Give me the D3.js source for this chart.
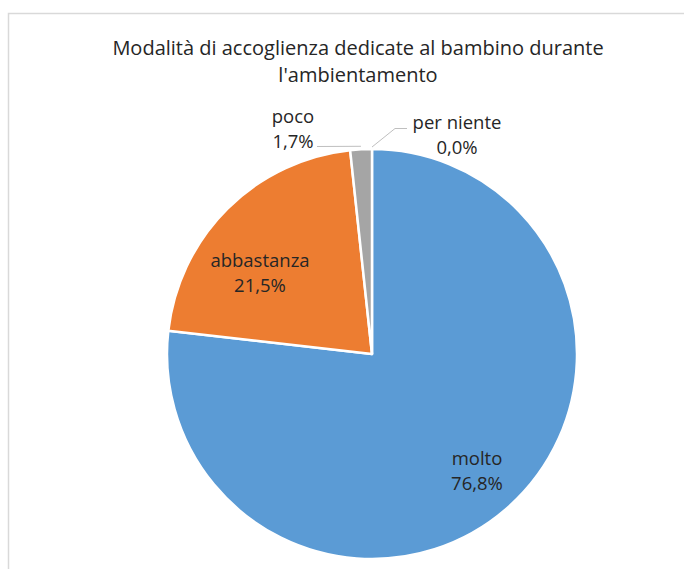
<!DOCTYPE html>
<html><head><meta charset="utf-8">
<script src="https://cdn.jsdelivr.net/npm/d3@7"></script>
<style>body{margin:0;background:#fff}svg{display:block}</style>
</head><body>
<svg id="c" width="684" height="569"></svg>
<script>
const categories = ["molto", "abbastanza", "poco", "per niente"];
const values = [76.8, 21.5, 1.7, 0.0];
const colors = ["#5b9bd5", "#ed7d31", "#a5a5a5", "#ffc000"];
const titleLines = ["Modalità di accoglienza dedicate al bambino durante", "l'ambientamento"];

const svg = d3.select("#c");
const font = "'Open Sans', 'Noto Sans', sans-serif";

// frame
svg.append("path").attr("d", "M8.5,569 L8.5,13.5 L684,13.5")
  .attr("fill", "none").attr("stroke", "#d9d9d9").attr("stroke-width", 1.5);

svg.append("text").attr("x", 358).attr("y", 55).attr("text-anchor", "middle")
  .attr("font-family", font).attr("font-size", 20).attr("fill", "#262626")
  .selectAll("tspan").data(titleLines).join("tspan")
  .attr("x", 358).attr("dy", (d, i) => i ? 27 : 0).text(d => d);

const cx = 372, cy = 354, r = 205;
const data = categories.map((c, i) => ({cat: c, v: values[i], col: colors[i]}));
const pie = d3.pie().sort(null).value(d => d.v);
const arcs = pie(data);
const arc = d3.arc().innerRadius(0).outerRadius(r);
const g = svg.append("g").attr("transform", `translate(${cx},${cy})`);
g.selectAll("path").data(arcs.filter(a => a.data.v > 0)).join("path")
  .attr("d", arc).attr("fill", d => d.data.col)
  .attr("stroke", "#fff").attr("stroke-width", 2.5).attr("stroke-linejoin", "round");

// labels
const labelPos = {
  "molto": [477, 465],
  "abbastanza": [260, 267],
  "poco": [293, 123],
  "per niente": [457, 129]
};
const fmt = v => d3.format(".1f")(v).replace(".", ",") + "%";
arcs.forEach(a => {
  const [x, y] = labelPos[a.data.cat];
  const t = svg.append("text").attr("text-anchor", "middle")
    .attr("font-family", font).attr("font-size", 18.5).attr("fill", "#262626");
  t.append("tspan").attr("x", x).attr("y", y).text(a.data.cat);
  t.append("tspan").attr("x", x).attr("y", y + 25).text(fmt(a.data.v));
});

// leader lines
const pocoArc = arcs[2], nienteArc = arcs[3];
const pt = (ang, rr) => [cx + rr * Math.sin(ang), cy - rr * Math.cos(ang)];
const pocoEnd = pt((pocoArc.startAngle + pocoArc.endAngle) / 2, r + 2);
const nienteEnd = pt(nienteArc.startAngle, r + 2);
svg.append("path").attr("d", `M317,146.5 L${pocoEnd[0]},${pocoEnd[1] - 1}`)
  .attr("fill", "none").attr("stroke", "#bfbfbf").attr("stroke-width", 1);
svg.append("path").attr("d", `M407,128.5 L395,128.5 L${nienteEnd[0]},${nienteEnd[1]}`)
  .attr("fill", "none").attr("stroke", "#bfbfbf").attr("stroke-width", 1);
</script>
</body></html>
